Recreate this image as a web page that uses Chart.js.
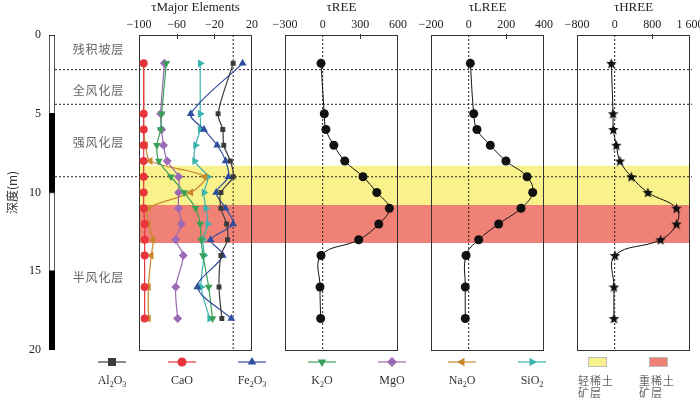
<!DOCTYPE html>
<html>
<head>
<meta charset="utf-8">
<script src="https://cdn.jsdelivr.net/npm/chart.js@4.4.1/dist/chart.umd.min.js"></script>
<style>
  html, body { margin: 0; padding: 0; background: #fff; }
  #wrap { position: relative; width: 700px; height: 399px; overflow: hidden; background: #fff; }
  #wrap canvas { position: absolute; top: 0; }
  .leg { position: absolute; font-family: 'Liberation Serif', serif; font-size: 12px; color: #333; text-align: center; white-space: nowrap; }
  .leg sub { font-size: 8px; vertical-align: baseline; position: relative; top: 3px; }
  .leg-cjk { position: absolute; font-family: 'Noto Sans CJK SC', sans-serif; font-size: 11px; line-height: 12px; color: #666; letter-spacing: 1px; white-space: nowrap; }
  .leg svg { display: block; margin: 0 auto; }
</style>
</head>
<body>
<div id="wrap"></div>
<script>
// depth of each sample (m)
const depths = [1.8, 5, 6, 7, 8, 9, 10, 11, 12, 13, 14, 16, 18];

// weathering profile
const layerBreaks = [2.2, 4.4, 9];
const layerNames = ['残积坡层', '全风化层', '强风化层', '半风化层'];
const layerLabelDepths = [0.9, 3.5, 6.8, 15.4];
const columnBlocks = [[0, 5], [5, 10], [10, 15], [15, 20]];
const columnColors = ['#fff', '#000', '#fff', '#000'];
const depthTicks = [0, 5, 10, 15, 20];

// ore layers
const oreNames = ['轻稀土矿层', '重稀土矿层'];
const oreBands = [[8.3, 10.8], [10.8, 13.2]];
const oreColors = ['#f9f18c', '#f08177'];

// tau major elements (%)
const majorNames = ['Al2O3', 'CaO', 'Fe2O3', 'K2O', 'MgO', 'Na2O', 'SiO2'];
const al2o3 = [0, -16, -11, -10, -3, 0, -13, -13, -7, -6, -13, -15, -12];
const cao = [-95, -95, -95, -95, -95, -95, -95, -95, -94, -94, -94, -94, -94];
const fe2o3 = [10, -45, -31, -17, -8, -5, -18, -8, 0, -24, -11, -38, -2];
const k2o = [-71, -76, -77, -81, -79, -66, -52, -40, -35, -34, -32, -26, -22];
const mgo = [-73, -77, -76, -74, -70, -58, -58, -58, -55, -61, -53, -61, -59];
const na2o = [-95, -95, -95, -93, -88, -30, -45, -90, -90, -85, -87, -90, -90];
const sio2 = [-35, -35, -35, -40, -41, -27, -31, -29, -27, -32, -31, -34, -25];
const majorColors = ['#3b3b3b', '#e8353b', '#2f4d9e', '#3aa057', '#9a6ab4', '#c8882b', '#3cb4ae'];
const majorMarkers = ['rect', 'circle', 'triangle', 'triangle', 'rectRot', 'triangle', 'triangle'];
const majorRotation = [0, 0, 0, 180, 0, 270, 90];
const majorRadius = [3.5, 4, 4.5, 4.5, 4.5, 4.5, 4.5];

// tau REE / LREE / HREE (%)
const reeValues = [-13, 13, 26, 89, 176, 321, 431, 531, 447, 287, -13, -21, -16];
const lreeValues = [9, 27, 44, 115, 198, 310, 340, 278, 159, 53, -14, -18, -18];
const hreeValues = [-70, -35, -28, 35, 113, 354, 706, 1314, 1314, 975, 6, -15, -15];

// panels
const panelTitles = ['τMajor Elements', 'τREE', 'τLREE', 'τHREE'];
const panelMin = [-100, -300, -200, -800];
const panelMax = [20, 600, 400, 1600];
const panelStep = [40, 300, 200, 800];

const TOP = 35, BOTTOM = 350, H = 399;
const PANEL_LEFT = 139, PANEL_GAP = 146, PANEL_W = 113, PANEL_PAD = 30, RIGHT_END = 690;
const serif12 = { family: 'Liberation Serif', size: 12 };
const serif13 = { family: 'Liberation Serif', size: 13 };

const wrap = document.getElementById('wrap');

function makeCanvas(left, width) {
  const c = document.createElement('canvas');
  c.width = width;
  c.height = H;
  c.style.left = left + 'px';
  c.style.width = width + 'px';
  c.style.height = H + 'px';
  wrap.appendChild(c);
  return c;
}

const depthAxis = () => ({ type: 'linear', reverse: true, min: 0, max: 20, display: false });
const baseOptions = (padding) => ({
  responsive: false,
  animation: false,
  events: [],
  layout: { padding },
  plugins: { legend: { display: false }, tooltip: { enabled: false } },
});

function fmtTick(v) {
  const a = Math.abs(v);
  const s = a >= 1000 ? String(a).replace(/\B(?=(\d{3})+$)/g, ' ') : String(a);
  return (v < 0 ? '−' : '') + s;
}

function starImage(size, color) {
  const c = document.createElement('canvas');
  c.width = c.height = size;
  const g = c.getContext('2d');
  const r = size / 2, ri = r * 0.45;
  g.beginPath();
  for (let i = 0; i < 10; i++) {
    const a = -Math.PI / 2 + i * Math.PI / 5;
    const rr = i % 2 ? ri : r;
    g.lineTo(r + rr * Math.cos(a), r * 1.1 + rr * Math.sin(a));
  }
  g.closePath();
  g.fillStyle = color;
  g.fill();
  return c;
}

// ore bands (behind everything)
new Chart(makeCanvas(PANEL_LEFT, RIGHT_END - PANEL_LEFT), {
  type: 'scatter',
  data: {
    datasets: oreBands.map(([top, bottom], i) => ({
      data: [{ x: 0, y: top }, { x: 1, y: top }],
      showLine: true,
      borderWidth: 0,
      pointRadius: 0,
      backgroundColor: oreColors[i],
      fill: { value: bottom },
    })),
  },
  options: {
    ...baseOptions({ top: TOP, bottom: H - BOTTOM, left: 0, right: 0 }),
    scales: { x: { type: 'linear', min: 0, max: 1, display: false }, y: depthAxis() },
  },
});

// layer boundaries + layer names
const layerLabelPlugin = {
  id: 'layerLabels',
  afterDatasetsDraw(chart) {
    const { ctx, scales: { y }, chartArea } = chart;
    ctx.save();
    ctx.font = "12px 'Noto Sans CJK SC'";
    ctx.fillStyle = '#666';
    ctx.textAlign = 'center';
    ctx.textBaseline = 'middle';
    layerNames.forEach((name, i) => {
      ctx.fillText(name.split('').join(String.fromCharCode(8202)), chartArea.left + 43, y.getPixelForValue(layerLabelDepths[i]));
    });
    ctx.restore();
  },
};

new Chart(makeCanvas(55, RIGHT_END + 2 - 55), {
  type: 'scatter',
  data: {
    datasets: layerBreaks.map((d) => ({
      data: [{ x: 0, y: d }, { x: 1, y: d }],
      showLine: true,
      borderColor: '#222',
      borderWidth: 1,
      borderDash: [2, 2],
      pointRadius: 0,
    })),
  },
  options: {
    ...baseOptions({ top: TOP, bottom: H - BOTTOM, left: 0, right: 0 }),
    scales: { x: { type: 'linear', min: 0, max: 1, display: false }, y: depthAxis() },
  },
  plugins: [layerLabelPlugin],
});

// depth axis with lithology column
new Chart(makeCanvas(0, 55), {
  type: 'bar',
  data: {
    labels: [''],
    datasets: columnBlocks.map((block, i) => ({
      data: [block],
      backgroundColor: columnColors[i],
      borderColor: '#000',
      borderWidth: 1,
      borderSkipped: false,
      grouped: false,
      barPercentage: 1,
      categoryPercentage: 1,
    })),
  },
  options: {
    ...baseOptions({ top: TOP, bottom: H - BOTTOM, left: 0, right: 0 }),
    scales: {
      x: { display: false },
      y: {
        type: 'linear', reverse: true, min: 0, max: 20, position: 'left',
        afterFit: (s) => { s.width = 49; },
        afterBuildTicks: (s) => { s.ticks = depthTicks.map((value) => ({ value })); },
        grid: { display: false, drawTicks: false },
        border: { display: false },
        ticks: { padding: 8, color: '#222', font: serif12 },
        title: {
          display: true, text: '深度(m)', color: '#333',
          font: { family: 'Noto Sans CJK SC', size: 12 },
          padding: { top: 5, bottom: 0 },
        },
      },
    },
  },
});

// panel frame + small inner tick marks
const framePlugin = {
  id: 'frame',
  beforeDatasetsDraw(chart) {
    const { ctx, chartArea: a, scales: { x } } = chart;
    ctx.save();
    ctx.strokeStyle = '#333';
    ctx.lineWidth = 1;
    ctx.strokeRect(Math.round(a.left) + 0.5, Math.round(a.top) + 0.5, Math.round(a.width) - 1, Math.round(a.height));
    x.ticks.forEach((t) => {
      if (t.value > x.min && t.value < x.max && t.value !== 0) {
        const px = Math.round(x.getPixelForValue(t.value)) + 0.5;
        ctx.beginPath();
        ctx.moveTo(px, a.top - 1);
        ctx.lineTo(px, a.top + 4);
        ctx.stroke();
      }
    });
    ctx.restore();
  },
};

const zeroLine = () => ({
  data: [{ x: 0, y: 0 }, { x: 0, y: 20 }],
  showLine: true,
  borderColor: '#222',
  borderWidth: 1,
  borderDash: [2, 2],
  pointRadius: 0,
  order: 10,
});

const toPoints = (vals) => vals.map((v, j) => ({ x: v, y: depths[j] }));

function panelChart(i, datasets) {
  const left = PANEL_LEFT + PANEL_GAP * i;
  return new Chart(makeCanvas(left - PANEL_PAD, PANEL_W + 2 * PANEL_PAD), {
    type: 'scatter',
    data: { datasets: [zeroLine(), ...datasets] },
    options: {
      ...baseOptions({ top: 0, bottom: H - BOTTOM, left: PANEL_PAD, right: PANEL_PAD }),
      scales: {
        x: {
          type: 'linear', position: 'top', min: panelMin[i], max: panelMax[i],
          afterFit: (s) => { s.height = TOP; s.paddingLeft = 0; s.paddingRight = 0; },
          grid: { display: false, drawTicks: false },
          border: { display: false },
          ticks: { stepSize: panelStep[i], padding: 3, color: '#222', maxRotation: 0, autoSkip: false, font: serif12, callback: fmtTick },
          title: { display: true, text: panelTitles[i], color: '#222', font: serif13, padding: { top: 0, bottom: 0 } },
        },
        y: depthAxis(),
      },
    },
    plugins: [framePlugin],
  });
}

const majorSeries = [al2o3, cao, fe2o3, k2o, mgo, na2o, sio2];
panelChart(0, majorSeries.map((vals, k) => ({
  data: toPoints(vals),
  showLine: true,
  tension: 0.3,
  borderColor: majorColors[k],
  borderWidth: 1.2,
  pointStyle: majorMarkers[k],
  rotation: majorRotation[k],
  pointRadius: majorRadius[k],
  pointBackgroundColor: majorColors[k],
  pointBorderColor: majorColors[k],
  pointBorderWidth: 0,
})));

const blackCurve = (vals, style) => ({
  data: toPoints(vals),
  showLine: true,
  tension: 0.4,
  borderColor: '#111',
  borderWidth: 1,
  pointStyle: style,
  pointRadius: 4.5,
  pointBackgroundColor: '#111',
  pointBorderColor: '#111',
  pointBorderWidth: 0,
});

panelChart(1, [blackCurve(reeValues, 'circle')]);
panelChart(2, [blackCurve(lreeValues, 'circle')]);
panelChart(3, [blackCurve(hreeValues, starImage(11, '#111'))]);

// legend
const LEG_X0 = 112, LEG_DX = 70, LEG_Y = 362, ORE_X = [597, 658];

function markerSvg(style, rot, color, r) {
  let shape;
  if (style === 'rect') shape = `<rect x="${-r}" y="${-r}" width="${2 * r}" height="${2 * r}" fill="${color}"/>`;
  else if (style === 'circle') shape = `<circle r="${r}" fill="${color}"/>`;
  else if (style === 'rectRot') shape = `<polygon points="0,${-r} ${r},0 0,${r} ${-r},0" fill="${color}"/>`;
  else shape = `<polygon points="0,${-r} ${r * 0.866},${r / 2} ${-r * 0.866},${r / 2}" fill="${color}" transform="rotate(${rot})"/>`;
  return `<svg width="28" height="12" viewBox="-14 -6 28 12"><line x1="-14" y1="0" x2="14" y2="0" stroke="${color}" stroke-width="1.2"/>${shape}</svg>`;
}

majorNames.forEach((name, k) => {
  const cx = LEG_X0 + LEG_DX * k;
  const sym = document.createElement('div');
  sym.className = 'leg';
  sym.style.left = (cx - 20) + 'px';
  sym.style.width = '40px';
  sym.style.top = (LEG_Y - 6) + 'px';
  sym.innerHTML = markerSvg(majorMarkers[k], majorRotation[k], majorColors[k], majorRadius[k] + 0.5);
  wrap.appendChild(sym);
  const lab = document.createElement('div');
  lab.className = 'leg';
  lab.style.left = (cx - 30) + 'px';
  lab.style.width = '60px';
  lab.style.top = (LEG_Y + 11) + 'px';
  lab.innerHTML = name.replace(/(\d)/g, '<sub>$1</sub>');
  wrap.appendChild(lab);
});

oreNames.forEach((name, i) => {
  const cx = ORE_X[i];
  const box = document.createElement('div');
  box.style.cssText = `position:absolute;left:${cx - 9}px;top:${LEG_Y - 5}px;width:17px;height:8px;background:${oreColors[i]};border:0.5px solid #bbb;`;
  wrap.appendChild(box);
  const lab = document.createElement('div');
  lab.className = 'leg-cjk';
  lab.style.left = (cx - 19) + 'px';
  lab.style.top = (LEG_Y + 12) + 'px';
  lab.innerHTML = name.slice(0, 3) + '<br>' + name.slice(3);
  wrap.appendChild(lab);
});
</script>
</body>
</html>
